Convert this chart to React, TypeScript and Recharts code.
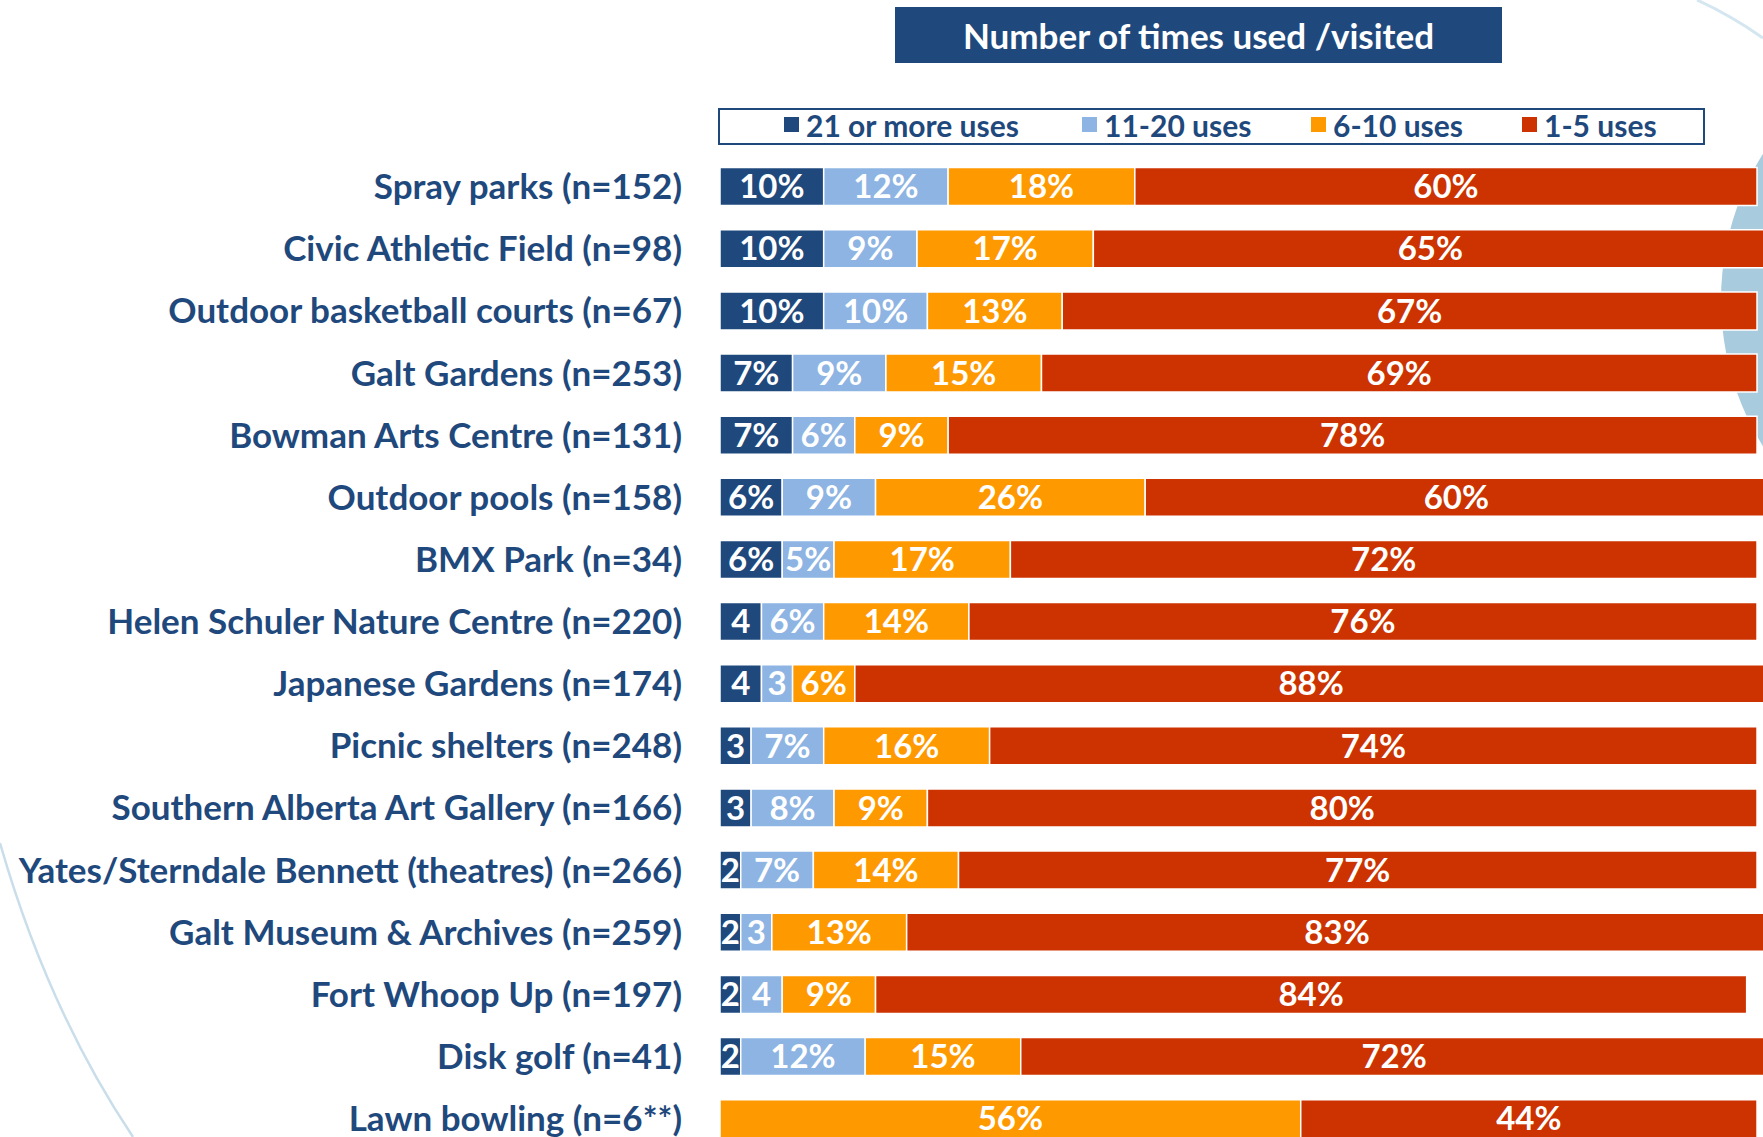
import { BarChart, Bar, XAxis, YAxis, Legend, LabelList } from 'recharts';

const categories = [
  'Spray parks (n=152)',
  'Civic Athletic Field (n=98)',
  'Outdoor basketball courts (n=67)',
  'Galt Gardens (n=253)',
  'Bowman Arts Centre (n=131)',
  'Outdoor pools (n=158)',
  'BMX Park (n=34)',
  'Helen Schuler Nature Centre (n=220)',
  'Japanese Gardens (n=174)',
  'Picnic shelters (n=248)',
  'Southern Alberta Art Gallery (n=166)',
  'Yates/Sterndale Bennett (theatres) (n=266)',
  'Galt Museum & Archives (n=259)',
  'Fort Whoop Up (n=197)',
  'Disk golf (n=41)',
  'Lawn bowling (n=6**)',
];

const uses21Plus = [10, 10, 10, 7, 7, 6, 6, 4, 4, 3, 3, 2, 2, 2, 2, 0];
const uses11to20 = [12, 9, 10, 9, 6, 9, 5, 6, 3, 7, 8, 7, 3, 4, 12, 0];
const uses6to10 = [18, 17, 13, 15, 9, 26, 17, 14, 6, 16, 9, 14, 13, 9, 15, 56];
const uses1to5 = [60, 65, 67, 69, 78, 60, 72, 76, 88, 74, 80, 77, 83, 84, 72, 44];

const series = [
  { key: 'u21', name: '21 or more uses', color: '#1F497D', values: uses21Plus },
  { key: 'u11', name: '11-20 uses', color: '#8DB4E2', values: uses11to20 },
  { key: 'u6', name: '6-10 uses', color: '#FF9900', values: uses6to10 },
  { key: 'u1', name: '1-5 uses', color: '#CC3300', values: uses1to5 },
];

const data = categories.map((name, i) => {
  const row: any = { name };
  series.forEach((s) => (row[s.key] = s.values[i]));
  return row;
});

const FONT = "Lato, 'Open Sans', sans-serif";
const NAVY = '#1F497D';

// small segments (<=4) show the bare number, like the original
const fmt = (v: any) => {
  if (!v) return '';
  return v <= 4 ? `${v}` : `${v}%`;
};

const LegendBox = () => (
  <div
    style={{
      boxSizing: 'border-box',
      width: 987,
      height: 37,
      border: `2px solid ${NAVY}`,
      background: '#fff',
      fontFamily: FONT,
      fontWeight: 'bold',
      fontSize: 30,
      color: NAVY,
      position: 'relative',
    }}
  >
    {series.map((s, i) => (
      <div
        key={s.key}
        style={{
          position: 'absolute',
          left: [64, 362, 591, 802][i],
          top: -2,
          height: 33,
          display: 'flex',
          alignItems: 'center',
          whiteSpace: 'nowrap',
        }}
      >
        <span style={{ width: 15, height: 15, background: s.color, marginRight: 7, display: 'inline-block' }} />
        {s.name}
      </div>
    ))}
  </div>
);

const Decorations = () => (
  <svg width={1763} height={1137} style={{ position: 'absolute', left: 0, top: 0 }}>
    <circle cx={1997} cy={300} r={276} fill="#A9CBDE" />
    <path d="M1697 0 Q1730 15 1763 38" fill="none" stroke="#D4E6F0" strokeWidth={3} />
    <path d="M0 843 Q48 1010 133 1137" fill="none" stroke="#C9DEEA" strokeWidth={2.5} />
  </svg>
);

export default function App() {
  return (
    <div
      style={{
        position: 'absolute',
        left: 0,
        top: 0,
        width: 1763,
        height: 1137,
        overflow: 'hidden',
        background: '#fff',
      }}
    >
      <Decorations />
      <div
        style={{
          position: 'absolute',
          left: 895,
          top: 7,
          width: 607,
          height: 56,
          background: NAVY,
          color: '#fff',
          fontFamily: FONT,
          fontWeight: 'bold',
          fontSize: 35,
          display: 'flex',
          alignItems: 'center',
          justifyContent: 'center',
        }}
      >
        Number of times used /visited
      </div>
      <div style={{ position: 'absolute', left: 0, top: 0 }}>
        <BarChart
          width={1790}
          height={1165}
          data={data}
          layout="vertical"
          margin={{ top: 155.6, right: 22.6, bottom: 15.2, left: 0 }}
          barSize={38}
        >
          <XAxis type="number" domain={[0, 101]} allowDataOverflow hide />
          <YAxis
            type="category"
            dataKey="name"
            width={720}
            axisLine={false}
            tickLine={false}
            tickSize={0}
            tickMargin={38}
            interval={0}
            tick={{ fill: NAVY, fontSize: 35, fontWeight: 'bold', fontFamily: FONT }}
          />
          <Legend
            layout="horizontal"
            verticalAlign="middle"
            align="center"
            content={() => <LegendBox />}
            wrapperStyle={{ position: 'absolute', left: 718, top: 108, width: 987, height: 37 }}
          />
          {series.map((s) => (
            <Bar
              key={s.key}
              dataKey={s.key}
              name={s.name}
              stackId="a"
              fill={s.color}
              stroke="#fff"
              strokeWidth={1.5}
              isAnimationActive={false}
            >
              <LabelList
                dataKey={s.key}
                position="center"
                formatter={fmt}
                fill="#fff"
                style={{ fontSize: 33, fontWeight: 'bold', fontFamily: FONT }}
              />
            </Bar>
          ))}
        </BarChart>
      </div>
    </div>
  );
}
